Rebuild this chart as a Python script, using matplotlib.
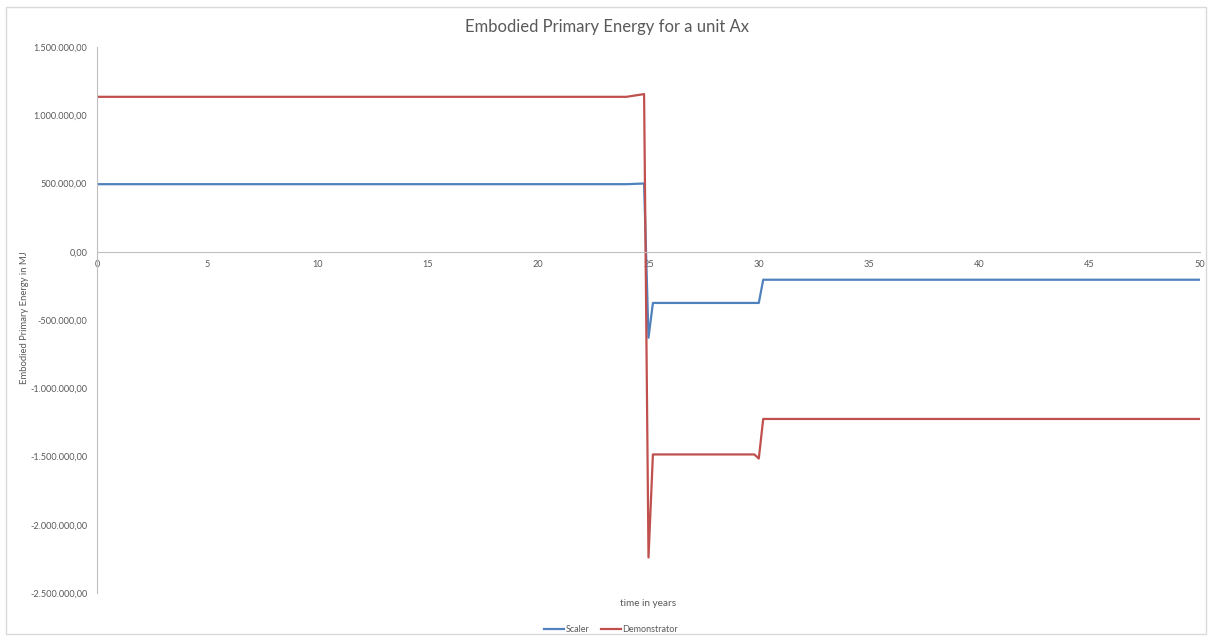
import matplotlib
matplotlib.use("Agg")
import matplotlib.pyplot as plt
from matplotlib.ticker import FuncFormatter, MultipleLocator
from matplotlib.patches import Rectangle

plt.rcParams['font.family'] = ['Lato', 'DejaVu Sans']

# breakpoints (time in years, energy in MJ)
scaler_t = [0, 24, 24.8, 25, 25.2, 30, 30.2, 50]
scaler_e = [495000, 495000, 500000, -630000, -375000, -375000, -205000, -205000]

demo_t = [0, 24, 24.8, 25, 25.2, 29.8, 30, 30.2, 50]
demo_e = [1135000, 1135000, 1155000, -2240000, -1485000, -1485000, -1515000, -1225000, -1225000]


def de_fmt(v, pos):
    s = "{:,.2f}".format(v)
    return s.replace(",", "X").replace(".", ",").replace("X", ".")


W, H = 1213, 641
fig = plt.figure(figsize=(W / 100, H / 100), dpi=100)
fig.patches.append(Rectangle((6 / W, 7 / H), (1206 - 6) / W, (634 - 7) / H,
                             transform=fig.transFigure, fill=False,
                             edgecolor='#d9d9d9', linewidth=1))

ax = fig.add_axes([97 / W, (H - 593) / H, (1200 - 97) / W, (593 - 47) / H])
ax.plot(scaler_t, scaler_e, color='#4F81BD', lw=1.6, label='Scaler')
ax.plot(demo_t, demo_e, color='#C0504D', lw=1.6, label='Demonstrator')

ax.set_xlim(0, 50)
ax.set_ylim(-2500000, 1500000)
ax.xaxis.set_major_locator(MultipleLocator(5))
ax.yaxis.set_major_locator(MultipleLocator(500000))
ax.yaxis.set_major_formatter(FuncFormatter(de_fmt))

for s in ['top', 'right']:
    ax.spines[s].set_visible(False)
ax.spines['bottom'].set_position(('data', 0))
ax.spines['bottom'].set_color('#bfbfbf')
ax.spines['left'].set_color('#bfbfbf')
ax.tick_params(axis='both', length=0, labelsize=6.6, labelcolor='#595959')
ax.tick_params(axis='y', pad=7)
ax.tick_params(axis='x', pad=6)

fig.text(607 / W, 1 - 27 / H, 'Embodied Primary Energy for a unit Ax',
         ha='center', va='center', fontsize=12, color='#595959')
fig.text(25 / W, 1 - 318 / H, 'Embodied Primary Energy in MJ', rotation=90,
         ha='center', va='center', fontsize=6.8, color='#595959')
fig.text(648 / W, 1 - 604 / H, 'time in years', ha='center', va='center',
         fontsize=7.2, color='#595959')

fig.legend(loc='center', bbox_to_anchor=(611 / W, 1 - 630 / H), ncol=2,
           frameon=False, fontsize=6.5, handlelength=2.2, handletextpad=0.2,
           columnspacing=1.3, labelcolor='#595959')

fig.savefig('out.png', dpi=100)
